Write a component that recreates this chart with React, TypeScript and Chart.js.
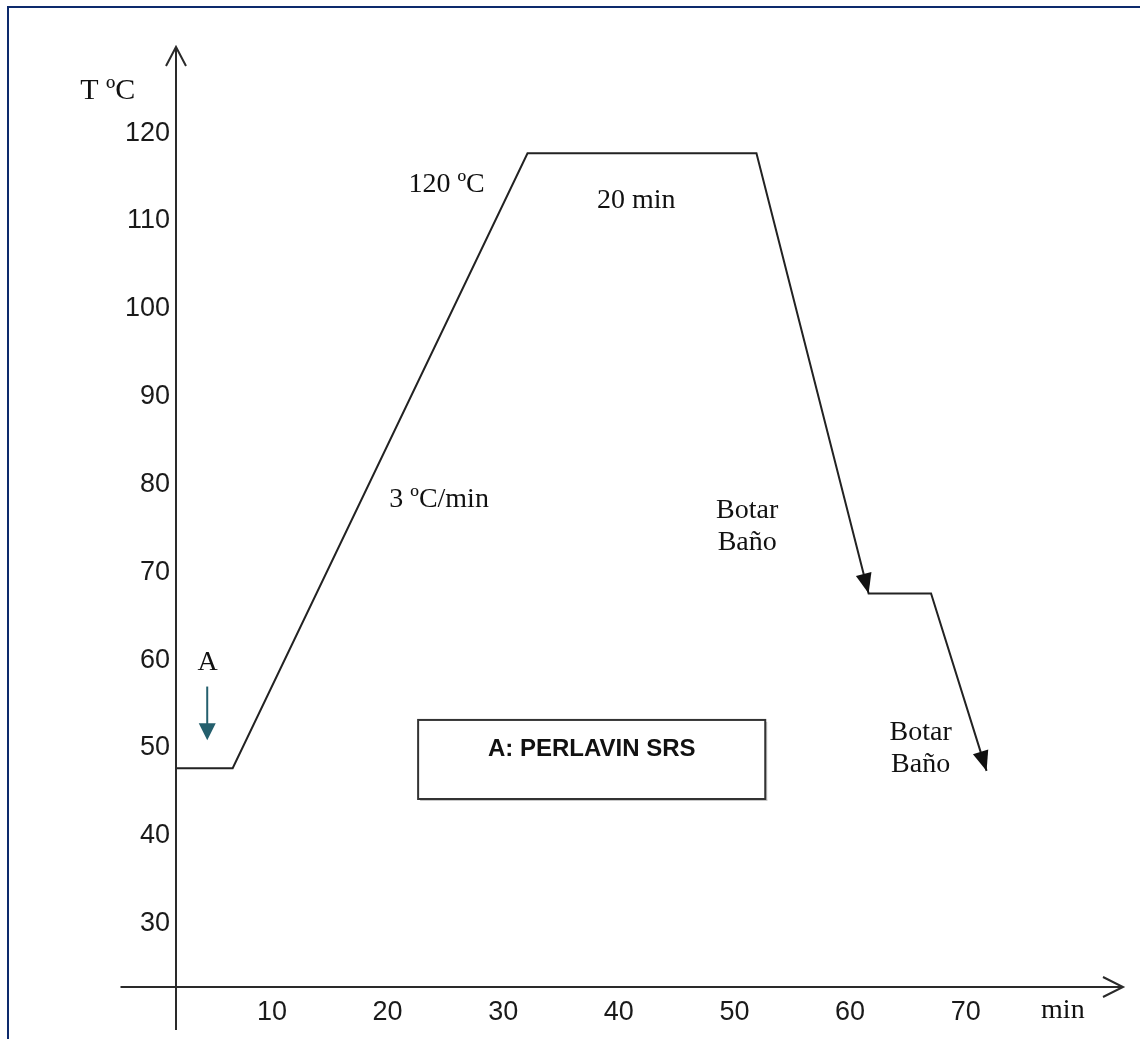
import React, { useEffect, useRef } from "react";
import { Chart, registerables } from "chart.js";

Chart.register(...registerables);

// ---- Data ----
const TIME_MIN = [1.7, 6.6, 32.1, 51.9, 61.6, 67.0, 71.8];
const TEMP_C = [47.7, 47.7, 117.7, 117.7, 67.6, 67.6, 47.4];
const ARROW_END_INDEX = [4, 6];

const X_TICKS = [10, 20, 30, 40, 50, 60, 70];
const Y_TICKS = [30, 40, 50, 60, 70, 80, 90, 100, 110, 120];

// axes: y axis crosses at X_MIN, x axis at Y_MIN; arrows at the maxima
const X_MIN = 1.7;
const X_MAX = 83.6;
const Y_MIN = 22.8;
const Y_MAX = 129.8;
const X_AXIS_TAIL = -3.1;
const Y_AXIS_TAIL = 17.9;

// ---- Annotations (data coordinates) ----
const NOTE_TEXT = [
  ["T ºC"],
  ["120 ºC"],
  ["20 min"],
  ["3 ºC/min"],
  ["Botar", "Baño"],
  ["Botar", "Baño"],
  ["A"],
  ["min"],
];
const NOTE_X = [-4.2, 25.1, 41.5, 24.45, 51.1, 66.1, 4.43, 78.4];
const NOTE_Y = [123.9, 113.3, 111.5, 77.4, 76.2, 50.9, 58.9, 19.3];

const BOX_LABEL = "A: PERLAVIN SRS";
const BOX_X = [22.64, 52.66];
const BOX_Y = [44.2, 53.2];
const BOX_LABEL_Y = 49.1;

const A_ARROW_X = 4.4;
const A_ARROW_Y = [57.0, 50.9];

const SERIF = "'Liberation Serif', 'Times New Roman', serif";
const SANS = "'Liberation Sans', Arial, sans-serif";

function filledHead(ctx: CanvasRenderingContext2D, x0: number, y0: number, x1: number, y1: number, len: number, half: number, color: string) {
  const a = Math.atan2(y1 - y0, x1 - x0);
  const bx = x1 - len * Math.cos(a);
  const by = y1 - len * Math.sin(a);
  const nx = -Math.sin(a) * half;
  const ny = Math.cos(a) * half;
  ctx.beginPath();
  ctx.moveTo(x1, y1);
  ctx.lineTo(bx + nx, by + ny);
  ctx.lineTo(bx - nx, by - ny);
  ctx.closePath();
  ctx.fillStyle = color;
  ctx.fill();
}

const diagramPlugin = {
  id: "diagram",
  beforeDraw(chart: any) {
    const ctx: CanvasRenderingContext2D = chart.ctx;
    ctx.save();
    ctx.fillStyle = "#ffffff";
    ctx.fillRect(0, 0, chart.width, chart.height);
    ctx.fillStyle = "#0d2a6c";
    ctx.fillRect(7, 6, chart.width - 7, 2);
    ctx.fillRect(7, 6, 2, chart.height - 6);
    ctx.restore();
  },
  afterDraw(chart: any) {
    const ctx: CanvasRenderingContext2D = chart.ctx;
    const xs = chart.scales.x;
    const ys = chart.scales.y;
    const px = (v: number) => xs.getPixelForValue(v);
    const py = (v: number) => ys.getPixelForValue(v);
    ctx.save();

    // axes
    ctx.strokeStyle = "#2a2a2a";
    ctx.lineWidth = 2;
    ctx.beginPath();
    ctx.moveTo(px(X_MIN), py(Y_AXIS_TAIL));
    ctx.lineTo(px(X_MIN), py(Y_MAX));
    ctx.moveTo(px(X_AXIS_TAIL), py(Y_MIN));
    ctx.lineTo(px(X_MAX), py(Y_MIN));
    ctx.stroke();
    // open arrowheads
    const yt = { x: px(X_MIN), y: py(Y_MAX) };
    const xt = { x: px(X_MAX), y: py(Y_MIN) };
    ctx.beginPath();
    ctx.moveTo(yt.x - 10, yt.y + 19);
    ctx.lineTo(yt.x, yt.y);
    ctx.lineTo(yt.x + 10, yt.y + 19);
    ctx.moveTo(xt.x - 20, xt.y - 10);
    ctx.lineTo(xt.x, xt.y);
    ctx.lineTo(xt.x - 20, xt.y + 10);
    ctx.stroke();

    // arrowheads on the curve
    const meta = chart.getDatasetMeta(0);
    ARROW_END_INDEX.forEach((i) => {
      const p = meta.data[i];
      const q = meta.data[i - 1];
      filledHead(ctx, q.x, q.y, p.x, p.y, 20, 8, "#111111");
    });

    // notes
    ctx.fillStyle = "#111111";
    ctx.textAlign = "center";
    ctx.textBaseline = "alphabetic";
    NOTE_TEXT.forEach((lines, i) => {
      const size = i === 0 ? 30 : 28;
      ctx.font = `${size}px ${SERIF}`;
      lines.forEach((t, j) => {
        ctx.fillText(t, px(NOTE_X[i]), py(NOTE_Y[i]) + j * 32);
      });
    });

    // box
    const bl = px(BOX_X[0]);
    const br = px(BOX_X[1]);
    const bt = py(BOX_Y[1]);
    const bb = py(BOX_Y[0]);
    ctx.fillStyle = "#c8c8c8";
    ctx.fillRect(br, bt + 2, 2, bb - bt);
    ctx.fillRect(bl + 2, bb, br - bl, 2);
    ctx.strokeStyle = "#333333";
    ctx.lineWidth = 2;
    ctx.strokeRect(bl, bt, br - bl, bb - bt);
    ctx.fillStyle = "#111111";
    ctx.font = `bold 24px ${SANS}`;
    ctx.fillText(BOX_LABEL, (bl + br) / 2, py(BOX_LABEL_Y));

    // teal arrow for A
    const ax = px(A_ARROW_X);
    const a0 = py(A_ARROW_Y[0]);
    const a1 = py(A_ARROW_Y[1]);
    ctx.strokeStyle = "#245f6d";
    ctx.lineWidth = 2;
    ctx.beginPath();
    ctx.moveTo(ax, a0);
    ctx.lineTo(ax, a1 - 14);
    ctx.stroke();
    filledHead(ctx, ax, a0, ax, a1, 17, 8.5, "#245f6d");

    ctx.restore();
  },
};

export default function App() {
  const ref = useRef<HTMLCanvasElement>(null);

  useEffect(() => {
    if (!ref.current) return;
    const points = TIME_MIN.map((t, i) => ({ x: t, y: TEMP_C[i] }));
    const chart = new Chart(ref.current, {
      type: "scatter",
      data: {
        datasets: [
          {
            data: points,
            showLine: true,
            borderColor: "#222222",
            borderWidth: 2,
            pointRadius: 0,
            tension: 0,
          },
        ],
      },
      options: {
        responsive: false,
        animation: false,
        devicePixelRatio: 1,
        layout: { padding: { left: 0, top: 47, right: 17, bottom: 0 } },
        plugins: {
          legend: { display: false },
          tooltip: { enabled: false },
        },
        scales: {
          x: {
            type: "linear",
            min: X_MIN,
            max: X_MAX,
            grid: { display: false, drawTicks: false },
            border: { display: false },
            ticks: {
              color: "#1a1a1a",
              font: { family: SANS, size: 27 },
              padding: 9,
              maxRotation: 0,
              autoSkip: false,
            },
            afterBuildTicks: (s: any) => {
              s.ticks = X_TICKS.map((v) => ({ value: v }));
            },
            afterFit: (s: any) => {
              s.height = 52;
            },
          },
          y: {
            type: "linear",
            min: Y_MIN,
            max: Y_MAX,
            grid: { display: false, drawTicks: false },
            border: { display: false },
            ticks: {
              color: "#1a1a1a",
              font: { family: SANS, size: 27 },
              padding: 6,
              autoSkip: false,
            },
            afterBuildTicks: (s: any) => {
              s.ticks = Y_TICKS.map((v) => ({ value: v }));
            },
            afterFit: (s: any) => {
              s.width = 176;
            },
          },
        },
      },
      plugins: [diagramPlugin],
    });
    return () => chart.destroy();
  }, []);

  return (
    <div style={{ position: "absolute", left: 0, top: 0, width: 1140, height: 1039 }}>
      <canvas ref={ref} width={1140} height={1039} style={{ display: "block" }} />
    </div>
  );
}
